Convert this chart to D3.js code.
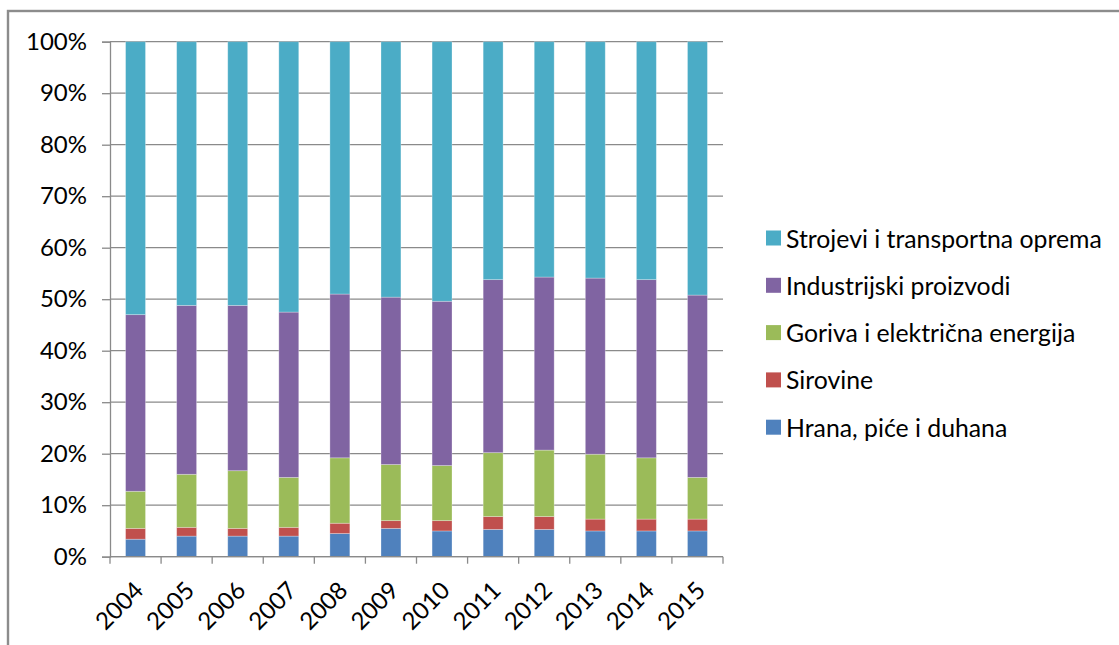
<!DOCTYPE html>
<html>
<head>
<meta charset="utf-8">
<script src="https://cdn.jsdelivr.net/npm/d3@7"></script>
<style>
  body { margin: 0; background: #fff; }
  svg { display: block; font-family: Lato, "Open Sans", sans-serif; }
</style>
</head>
<body>
<div id="chart"></div>
<script>
const years = ["2004", "2005", "2006", "2007", "2008", "2009", "2010", "2011", "2012", "2013", "2014", "2015"];

// shares in % per year, bottom to top
const hrana = [3.4, 4.0, 4.0, 4.0, 4.5, 5.5, 5.0, 5.3, 5.3, 5.0, 5.0, 5.0];
const sirovine = [2.1, 1.7, 1.5, 1.7, 2.0, 1.5, 2.0, 2.5, 2.5, 2.3, 2.3, 2.3];
const goriva = [7.2, 10.3, 11.2, 9.7, 12.7, 10.9, 10.7, 12.4, 12.9, 12.6, 11.9, 8.1];
const industrijski = [34.3, 32.8, 32.1, 32.1, 31.8, 32.5, 31.9, 33.6, 33.6, 34.2, 34.6, 35.4];
const strojevi = [53.0, 51.2, 51.2, 52.5, 49.0, 49.6, 50.4, 46.2, 45.7, 45.9, 46.2, 49.2];

const seriesNames = ["Hrana, piće i duhana", "Sirovine", "Goriva i električna energija", "Industrijski proizvodi", "Strojevi i transportna oprema"];
const seriesValues = [hrana, sirovine, goriva, industrijski, strojevi];
const colors = ["#4F81BD", "#C0504D", "#9BBB59", "#8064A2", "#4BACC6"];

const width = 1119, height = 645;
const plot = { left: 110, right: 723, top: 41.7, bottom: 556.7 };

const svg = d3.select("#chart")
    .append("svg")
        .attr("width", width)
        .attr("height", height);

// outer chart border (only top and left visible in frame)
svg.append("rect")
    .attr("x", 8).attr("y", 11)
    .attr("width", width + 20).attr("height", height + 20)
    .attr("fill", "none")
    .attr("stroke", "#8c8c8c")
    .attr("stroke-width", 2.4);

const rows = years.map((year, i) => {
    const row = { year: year };
    seriesNames.forEach((name, s) => { row[name] = seriesValues[s][i]; });
    return row;
});

const stacked = d3.stack()
    .keys(seriesNames)
    .offset(d3.stackOffsetExpand)(rows);

const x = d3.scaleBand()
    .domain(years)
    .range([plot.left, plot.right])
    .paddingInner(0.61)
    .paddingOuter(0.305);

const xTicks = d3.scaleBand().domain(years).range([plot.left, plot.right]);

const y = d3.scaleLinear()
    .domain([0, 1])
    .range([plot.bottom, plot.top]);

// gridlines
svg.append("g")
    .selectAll("line")
    .data(d3.range(0, 1.0001, 0.1))
    .join("line")
        .attr("x1", plot.left)
        .attr("x2", plot.right)
        .attr("y1", d => y(d))
        .attr("y2", d => y(d))
        .attr("stroke", "#8a8a8a")
        .attr("stroke-width", 1.3);

// bars
svg.append("g")
    .selectAll("g")
    .data(stacked)
    .join("g")
        .attr("fill", (d, i) => colors[i])
    .selectAll("rect")
    .data(d => d)
    .join("rect")
        .attr("x", d => x(d.data.year))
        .attr("width", x.bandwidth())
        .attr("y", d => y(d[1]))
        .attr("height", d => y(d[0]) - y(d[1]))
        .attr("stroke", "#ffffff")
        .attr("stroke-opacity", 0.35)
        .attr("stroke-width", 0.8);

// y axis
const yAxis = svg.append("g")
    .attr("transform", `translate(${plot.left},0)`)
    .call(d3.axisLeft(y)
        .ticks(10)
        .tickFormat(d3.format(".0%"))
        .tickSize(8)
        .tickPadding(15));

yAxis.select(".domain").attr("stroke", "#8a8a8a").attr("stroke-width", 1.3);
yAxis.selectAll(".tick line").attr("stroke", "#8a8a8a").attr("stroke-width", 1.3);
yAxis.selectAll(".tick text")
    .attr("fill", "#000")
    .style("font-size", "24px")
    .style("font-family", "Lato, 'Open Sans', sans-serif");

// x axis line and ticks at band edges
const xAxis = svg.append("g");
xAxis.append("line")
    .attr("x1", plot.left).attr("x2", plot.right)
    .attr("y1", plot.bottom).attr("y2", plot.bottom)
    .attr("stroke", "#8a8a8a")
    .attr("stroke-width", 1.3);

xAxis.selectAll(".xtick")
    .data(years.concat(["end"]))
    .join("line")
        .attr("class", "xtick")
        .attr("x1", d => d === "end" ? plot.right : xTicks(d))
        .attr("x2", d => d === "end" ? plot.right : xTicks(d))
        .attr("y1", plot.bottom)
        .attr("y2", plot.bottom + 7)
        .attr("stroke", "#8a8a8a")
        .attr("stroke-width", 1.3);

xAxis.selectAll(".xlabel")
    .data(years)
    .join("text")
        .attr("class", "xlabel")
        .attr("transform", d => `translate(${x(d) + x.bandwidth() / 2 + 5}, ${plot.bottom + 31}) rotate(-45)`)
        .attr("text-anchor", "end")
        .attr("dominant-baseline", "middle")
        .style("font-size", "24px")
        .text(d => d);

// legend, top entry is last series
const legend = svg.append("g")
    .attr("transform", "translate(766, 238)");

const legendItems = legend.selectAll("g")
    .data(seriesNames.slice().reverse())
    .join("g")
        .attr("transform", (d, i) => `translate(0, ${i * 47.3})`);

legendItems.append("rect")
    .attr("x", 0)
    .attr("y", -7.5)
    .attr("width", 15)
    .attr("height", 15)
    .attr("fill", d => colors[seriesNames.indexOf(d)]);

legendItems.append("text")
    .attr("x", 20)
    .attr("dominant-baseline", "central")
    .style("font-size", "24.8px")
    .text(d => d);
</script>
</body>
</html>
